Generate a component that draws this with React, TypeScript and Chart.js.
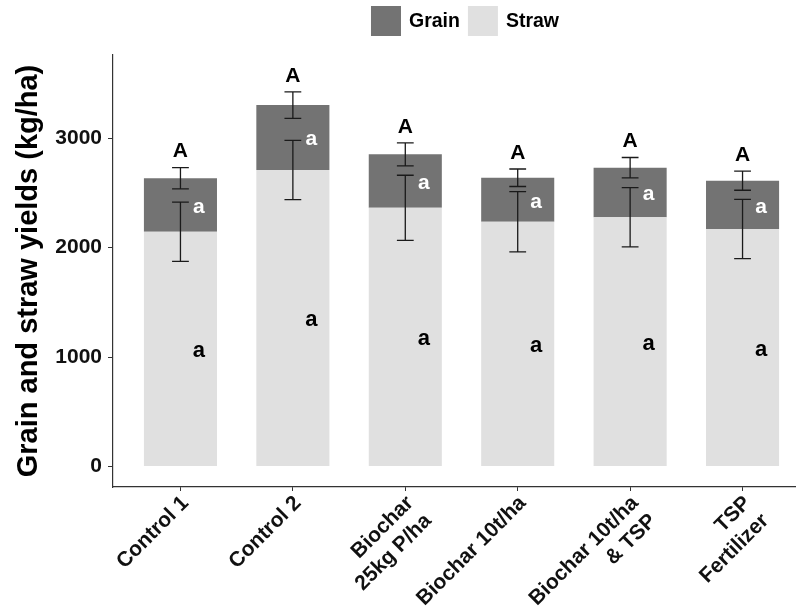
import React, { useEffect, useRef } from "react";
import { Chart, registerables } from "chart.js";

Chart.register(...registerables);

// Treatments (multi-line tick labels)
const treatments: string[][] = [
  ["Control 1"],
  ["Control 2"],
  ["Biochar", "25kg P/ha"],
  ["Biochar 10t/ha"],
  ["Biochar 10t/ha", "& TSP"],
  ["TSP", "Fertilizer"],
];

// Mean yields (kg/ha)
const strawYield = [2144, 2708, 2363, 2236, 2276, 2169];
const grainYield = [488, 593, 488, 401, 453, 441];

// Standard errors
const grainSE = [97, 121, 105, 80, 93, 87];
const strawSE = [270, 270, 297, 275, 270, 271];

// Significance letters
const totalLetters = ["A", "A", "A", "A", "A", "A"];
const grainLetters = ["a", "a", "a", "a", "a", "a"];
const strawLetters = ["a", "a", "a", "a", "a", "a"];

const yTicks = [0, 1000, 2000, 3000];
const yMin = -187;
const yMax = 3758;

const FONT = '"Liberation Sans", Arial, Helvetica, sans-serif';
const GRAIN_COLOR = "#737373";
const STRAW_COLOR = "#E0E0E0";
const INK = "#111111";

const overlayPlugin = {
  id: "overlay",
  beforeDraw(chart: any) {
    const { ctx, width, height } = chart;
    ctx.save();
    ctx.fillStyle = "#ffffff";
    ctx.fillRect(0, 0, width, height);
    ctx.restore();
  },
  afterDatasetsDraw(chart: any) {
    const { ctx, scales } = chart;
    const x = scales.x;
    const y = scales.y;
    const cap = 8.4;
    ctx.save();
    ctx.strokeStyle = "#1a1a1a";
    ctx.lineWidth = 1.3;
    const errorBar = (cx: number, lo: number, hi: number) => {
      const y1 = y.getPixelForValue(lo);
      const y2 = y.getPixelForValue(hi);
      ctx.beginPath();
      ctx.moveTo(cx, y1);
      ctx.lineTo(cx, y2);
      ctx.moveTo(cx - cap, y1);
      ctx.lineTo(cx + cap, y1);
      ctx.moveTo(cx - cap, y2);
      ctx.lineTo(cx + cap, y2);
      ctx.stroke();
    };
    treatments.forEach((_, i) => {
      const cx = x.getPixelForValue(i);
      const total = strawYield[i] + grainYield[i];
      errorBar(cx, strawYield[i] - strawSE[i], strawYield[i] + strawSE[i]);
      errorBar(cx, total - grainSE[i], total + grainSE[i]);
    });

    ctx.textAlign = "center";
    ctx.textBaseline = "middle";
    treatments.forEach((_, i) => {
      const cx = x.getPixelForValue(i);
      const total = strawYield[i] + grainYield[i];
      // letter above the whole stack
      ctx.fillStyle = "#000000";
      ctx.font = `bold 21px ${FONT}`;
      ctx.fillText(totalLetters[i], cx, y.getPixelForValue(total + grainSE[i]) - 16);
      // letter inside the grain segment
      ctx.fillStyle = "#ffffff";
      ctx.font = `bold 21px ${FONT}`;
      ctx.fillText(grainLetters[i], cx + 18.5, y.getPixelForValue(strawYield[i] + grainYield[i] / 2) + 2);
      // letter inside the straw segment
      ctx.fillStyle = "#000000";
      ctx.font = `bold 22px ${FONT}`;
      ctx.fillText(strawLetters[i], cx + 18.5, y.getPixelForValue(strawYield[i] / 2) + 2);
    });
    ctx.restore();
  },
  afterDraw(chart: any) {
    // legend centred above the panel
    const { ctx, chartArea } = chart;
    ctx.save();
    ctx.font = `bold 19.5px ${FONT}`;
    ctx.textBaseline = "middle";
    ctx.textAlign = "left";
    const items = [
      { label: "Grain", color: GRAIN_COLOR },
      { label: "Straw", color: STRAW_COLOR },
    ];
    const box = 30;
    const gap = 8;
    const widths = items.map((it) => ctx.measureText(it.label).width);
    const total = items.reduce((s, _, k) => s + box + gap + widths[k], 0) + gap * (items.length - 1);
    let lx = (chartArea.left + chartArea.right) / 2 + 3.5 - total / 2;
    const top = 6;
    items.forEach((it, k) => {
      ctx.fillStyle = it.color;
      ctx.fillRect(lx, top, box, box);
      lx += box + gap;
      ctx.fillStyle = "#000000";
      ctx.fillText(it.label, lx, top + box / 2 + 1);
      lx += widths[k] + gap;
    });
    ctx.restore();
  },
};

export default function App() {
  const canvasRef = useRef<HTMLCanvasElement | null>(null);

  useEffect(() => {
    const canvas = canvasRef.current;
    if (!canvas) return;
    const chart = new Chart(canvas, {
      type: "bar",
      data: {
        datasets: [
          {
            label: "Straw",
            data: strawYield.map((v, i) => ({ x: i, y: v })),
            backgroundColor: STRAW_COLOR,
            borderWidth: 0,
            barPercentage: 0.65,
            categoryPercentage: 1,
          },
          {
            label: "Grain",
            data: grainYield.map((v, i) => ({ x: i, y: v })),
            backgroundColor: GRAIN_COLOR,
            borderWidth: 0,
            barPercentage: 0.65,
            categoryPercentage: 1,
          },
        ],
      },
      options: {
        responsive: false,
        animation: false,
        devicePixelRatio: 1,
        layout: { padding: { top: 55, left: 0, right: 2, bottom: 0 } },
        plugins: {
          legend: { display: false },
          tooltip: { enabled: false },
        },
        scales: {
          x: {
            type: "linear",
            stacked: true,
            min: -0.6,
            max: 5.6,
            offset: false,
            afterBuildTicks: (scale: any) => {
              scale.ticks = treatments.map((_, i) => ({ value: i }));
            },
            afterFit: (scale: any) => {
              scale.height = 128;
            },
            grid: {
              display: true,
              offset: false,
              drawOnChartArea: false,
              drawTicks: true,
              tickLength: 4,
              color: "#333333",
            },
            border: { display: true, color: "#333333", width: 1.2 },
            ticks: {
              autoSkip: false,
              minRotation: 45,
              maxRotation: 45,
              padding: 0,
              labelOffset: 5,
              color: INK,
              font: { family: FONT, size: 21, weight: "bold" },
              callback: (value: any) => treatments[Math.round(Number(value))] ?? "",
            },
          },
          y: {
            type: "linear",
            stacked: true,
            min: yMin,
            max: yMax,
            afterBuildTicks: (scale: any) => {
              scale.ticks = yTicks.map((v) => ({ value: v }));
            },
            afterFit: (scale: any) => {
              scale.width = 113;
            },
            grid: {
              display: true,
              drawOnChartArea: false,
              drawTicks: true,
              tickLength: 5,
              color: "#333333",
            },
            border: { display: true, color: "#333333", width: 1.2 },
            ticks: {
              padding: 6,
              color: INK,
              font: { family: FONT, size: 21, weight: "bold" },
              callback: (value: any) => String(value),
            },
            title: {
              display: true,
              text: "Grain and straw yields (kg/ha)",
              color: "#000000",
              font: { family: FONT, size: 29, weight: "bold" },
              padding: { top: 12, bottom: 0 },
            },
          },
        },
      },
      plugins: [overlayPlugin],
    });
    return () => chart.destroy();
  }, []);

  return (
    <div
      style={{
        position: "absolute",
        left: 0,
        top: 0,
        width: 796,
        height: 615,
        overflow: "hidden",
        background: "#ffffff",
      }}
    >
      <canvas
        ref={canvasRef}
        width={812}
        height={615}
        style={{ display: "block", width: 812, height: 615 }}
      />
    </div>
  );
}
